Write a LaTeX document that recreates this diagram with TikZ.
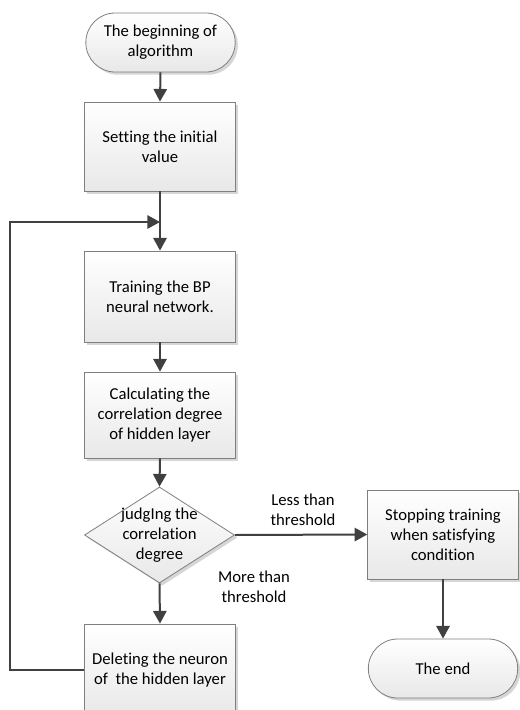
\documentclass[tikz,border=0pt]{standalone}
\usepackage{fontspec}
\setmainfont{Carlito}[Ligatures=NoCommon]
\usetikzlibrary{shapes.geometric,shadows,arrows.meta}
\definecolor{linec}{HTML}{404040}
\definecolor{borderc}{HTML}{7F7F7F}
\begin{document}
\begin{tikzpicture}[x=0.75pt,y=-0.75pt,
 base/.style={draw=borderc, line width=0.6pt, top color=white, bottom color=black!9,
   drop shadow={shadow xshift=2pt,shadow yshift=-2pt,fill=black!16,opacity=1},
   font=\fontsize{12.5}{15}\selectfont, align=center, inner sep=0pt},
 procbox/.style={base, rectangle, minimum width=113pt},
 termbox/.style={base, rectangle, rounded corners=22pt, minimum width=112pt, minimum height=44.25pt},
 decbox/.style={base, diamond, minimum width=112.5pt, minimum height=72pt},
 flow/.style={draw=linec, line width=1.5pt, -{Triangle[length=9.5pt,width=10pt]}},
 lbl/.style={font=\fontsize{12.5}{15}\selectfont, align=center, inner sep=0pt}]
\clip (0,0) rectangle (520,710);
\node[termbox] (start) at (160.5,42.5) {The beginning of\\algorithm};
\node[procbox, minimum height=66.75pt] (init) at (160,146.5) {Setting the initial\\value};
\node[procbox, minimum height=68.25pt] (train) at (160,296.5) {Training the BP\\neural network.};
\node[procbox, minimum height=64.5pt] (calc) at (160,415) {Calculating the\\correlation degree\\of hidden layer};
\node[decbox] (judge) at (159.5,535) {};
\node[lbl] (judgetxt) at (judge.center) {judgIng the\\correlation\\degree};
\node[procbox, minimum height=69pt] (del) at (160,670) {Deleting the neuron\\of\ \ the hidden layer};
\node[procbox, minimum height=66.75pt] (stop) at (443,534.5) {Stopping training\\when satisfying\\condition};
\node[termbox] (end) at (443,668.5) {The end};
\node[lbl] (less) at (303,510) {Less than\\threshold};
\node[lbl] (more) at (254,587) {More than\\threshold};
\coordinate (j) at (160,222);
\coordinate (lp) at (10,222);
\draw[flow] (start.south) -- (init.north);
\draw[flow] (init.south) -- (train.north);
\draw[flow] (train.south) -- (calc.north);
\draw[flow] (calc.south) -- (judge.north);
\draw[flow] (judge.south) -- (del.north);
\draw[flow] (judge.east) -- (stop.west);
\draw[flow] (stop.south) -- (end.north);
\draw[flow] (del.west) -| (lp) -- (j);
\end{tikzpicture}
\end{document}
